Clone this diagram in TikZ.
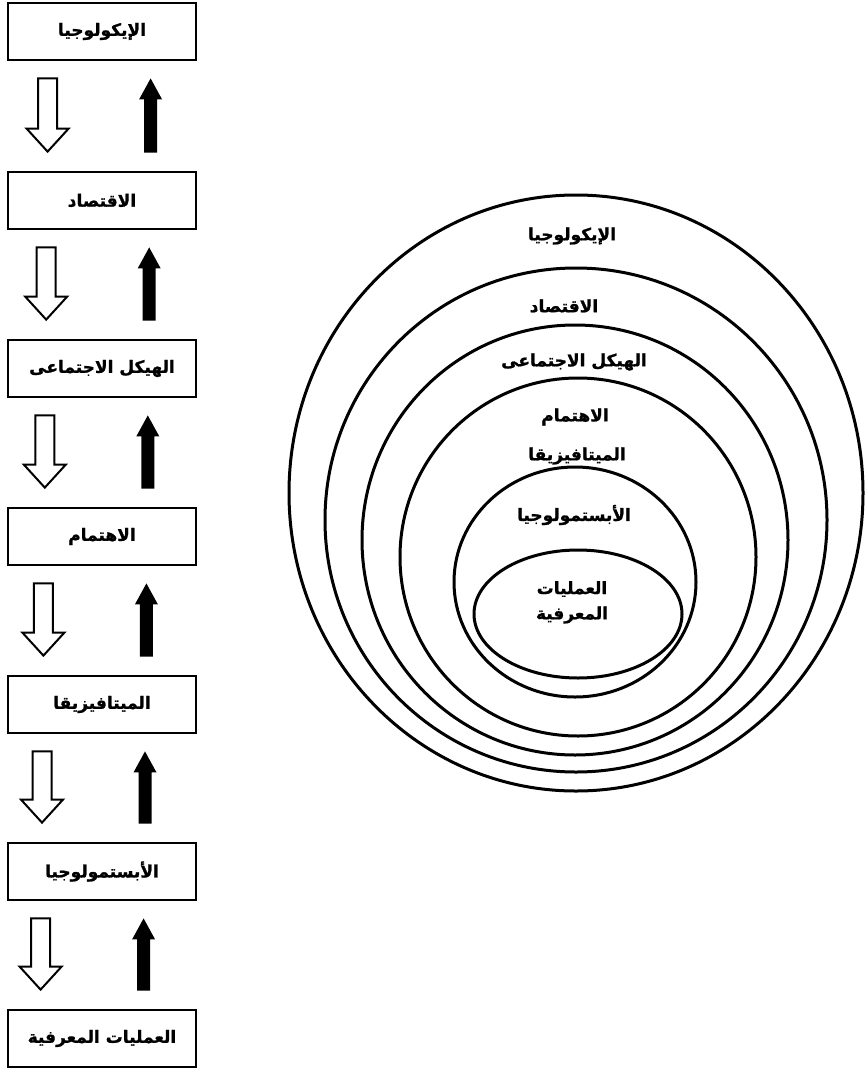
\documentclass[tikz,border=0pt]{standalone}
\usepackage{fontspec}
\usetikzlibrary{calc}
\newfontfamily\arabicfont[Script=Arabic, BoldFont={DejaVu Sans Bold}, BoldFeatures={FakeBold=1.2}]{DejaVu Sans}
\TeXXeTstate=1
\newcommand\artext[1]{{\arabicfont\bfseries\beginR #1\endR}}
\begin{document}
\begin{tikzpicture}[x=1pt,y=-1pt,
  box/.style={draw, line width=2.8pt, minimum width=188pt, minimum height=57pt, inner sep=0pt, font=\fontsize{17}{19}\selectfont},
  hollowarrow/.style={draw, line width=2pt, fill=white, line join=miter},
  solidarrow/.style={fill=black},
  ring/.style={line width=3pt},
  lab/.style={inner sep=0pt, font=\fontsize{17}{19}\selectfont}]
\useasboundingbox (0,0) rectangle (867,1068);

% left column
\node[box] (b1) at (102,31.5)   {\artext{الإيكولوجيا}};
\node[box] (b2) at (102,200.5)  {\artext{الاقتصاد}};
\node[box] (b3) at (102,368.5)  {\artext{الهيكل الاجتماعى}};
\node[box] (b4) at (102,536.5)  {\artext{الاهتمام}};
\node[box] (b5) at (102,704.5)  {\artext{الميتافيزيقا}};
\node[box] (b6) at (102,871.5)  {\artext{الأبستمولوجيا}};
\node[box] (b7) at (102,1038.5) {\artext{العمليات المعرفية}};

\foreach \i [evaluate=\i as \j using int(\i+1),
             evaluate=\i as \hx using 41-1.4*(\i-1),
             evaluate=\i as \bx using 144-1.4*(\i-1)] in {1,...,6} {
  \draw[hollowarrow]
    ($(b\i.south west)+(\hx-9.5,17)$) -- ($(b\i.south west)+(\hx+9.5,17)$) --
    ($(b\j.north west)+(\hx+9.5,-42)$) -- ($(b\j.north west)+(\hx+21,-42)$) --
    ($(b\j.north west)+(\hx,-19)$) --
    ($(b\j.north west)+(\hx-21,-42)$) -- ($(b\j.north west)+(\hx-9.5,-42)$) -- cycle;
  \fill[solidarrow]
    ($(b\i.south west)+(\bx,17)$) -- ($(b\i.south west)+(\bx+11.5,38)$) --
    ($(b\i.south west)+(\bx+6.5,38)$) -- ($(b\j.north west)+(\bx+6.5,-18)$) --
    ($(b\j.north west)+(\bx-6.5,-18)$) -- ($(b\i.south west)+(\bx-6.5,38)$) --
    ($(b\i.south west)+(\bx-11.5,38)$) -- cycle;
}

% nested ellipses
\draw[ring] (576,493) ellipse [x radius=287, y radius=298];
\draw[ring] (576,520) ellipse [x radius=251, y radius=252];
\draw[ring] (575,540) ellipse [x radius=213, y radius=215];
\draw[ring] (578,557) ellipse [x radius=178, y radius=179];
\draw[ring] (575,582) ellipse [x radius=121, y radius=115];
\draw[ring] (578,614) ellipse [x radius=104, y radius=64];

\node[lab] (l1) at (572,236) {\artext{الإيكولوجيا}};
\node[lab] (l2) at (564,306) {\artext{الاقتصاد}};
\node[lab] (l3) at (574,362) {\artext{الهيكل الاجتماعى}};
\node[lab] (l4) at (575,417) {\artext{الاهتمام}};
\node[lab] (l5) at (577,456) {\artext{الميتافيزيقا}};
\node[lab] (l6) at (574,515) {\artext{الأبستمولوجيا}};
\node[lab] (l7) at (572,589) {\artext{العمليات}};
\node[lab] (l8) at (572,615) {\artext{المعرفية}};
\end{tikzpicture}
\end{document}
